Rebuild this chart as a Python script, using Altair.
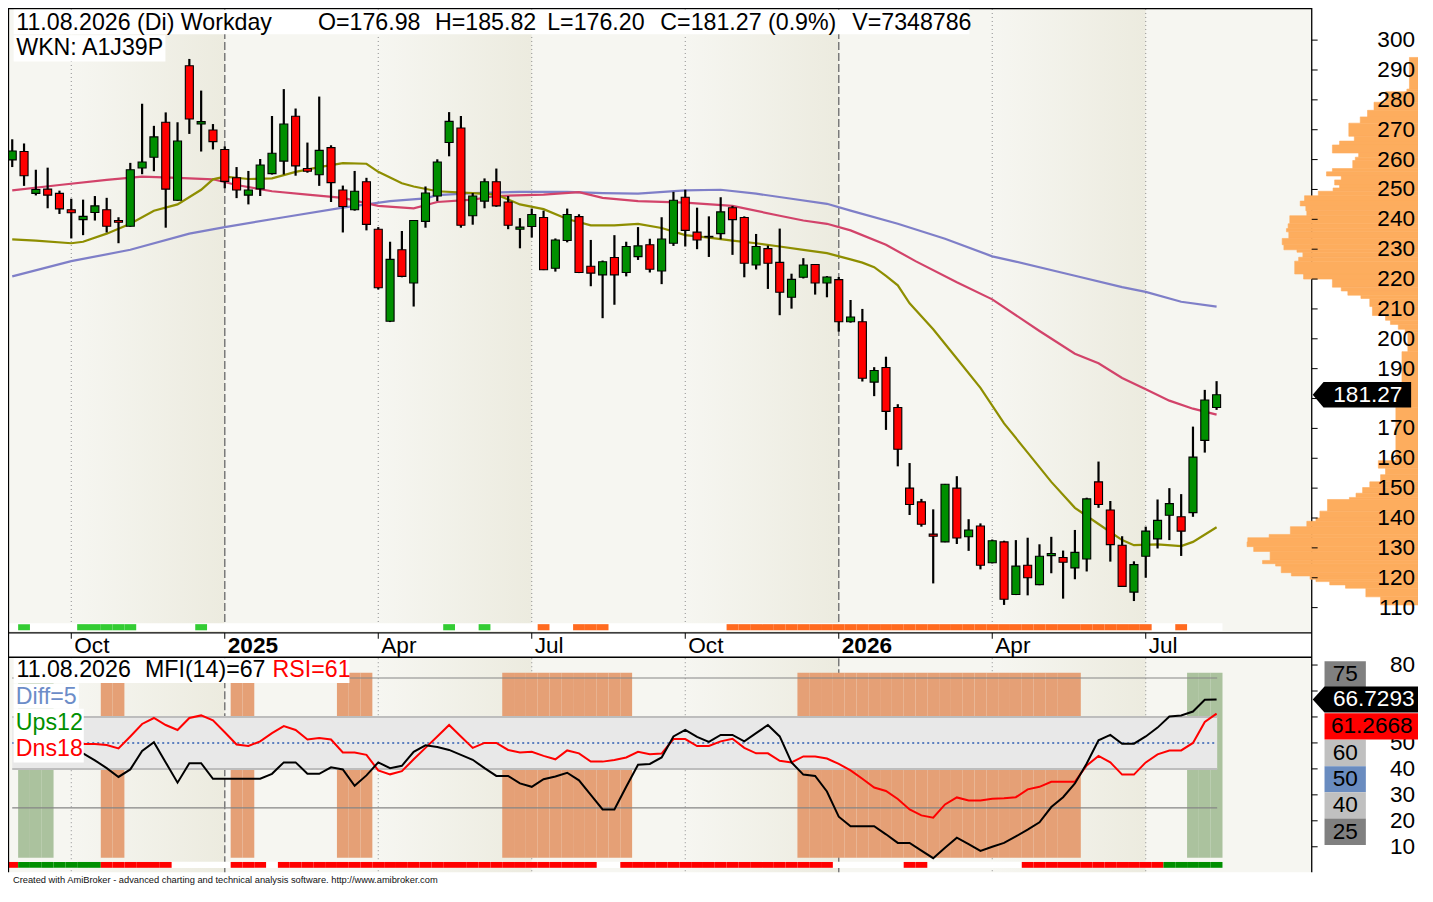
import altair as alt
import pandas as pd

# ------------------------------------------------------------------ data
OPEN = [259.9, 262.7, 248.7, 250.1, 248.7, 243.2, 239.9, 242.3, 243.2, 239.6,
        237.7, 257.2, 260.8, 272.5, 246.4, 291.4, 271.9, 269.9, 263.4, 253.9,
        248.1, 250.2, 255.3, 259.5, 274.5, 257.0, 254.9, 264.0, 249.8, 243.2,
        252.6, 236.7, 205.9, 229.8, 218.7, 239.3, 247.8, 265.7, 270.6, 241.2,
        246.1, 252.6, 245.8, 236.7, 237.6, 240.6, 223.6, 232.9, 240.9, 224.3,
        221.4, 227.2, 222.2, 227.5, 231.5, 222.7, 232.0, 247.4, 235.7, 234.3,
        235.2, 243.9, 240.6, 224.7, 230.2, 225.6, 213.9, 220.6, 224.9, 218.7,
        219.8, 205.7, 205.7, 185.5, 190.4, 177.0, 150.0, 145.4, 134.6, 132.0,
        150.0, 133.7, 137.3, 125.0, 132.0, 114.4, 124.2, 117.7, 127.4, 126.8,
        123.3, 126.3, 152.1, 142.7, 130.9, 115.2, 127.2, 133.0, 140.9, 140.4,
        141.8, 166.0, 176.98]
HIGH = [266.8, 265.4, 256.6, 257.3, 249.6, 246.9, 246.6, 247.8, 247.2, 240.7,
        258.9, 278.7, 271.3, 275.8, 272.5, 293.7, 283.1, 271.9, 264.4, 257.5,
        256.2, 260.2, 274.6, 283.6, 277.1, 265.7, 281.1, 264.8, 251.3, 256.2,
        253.9, 237.4, 232.5, 236.1, 239.7, 251.0, 260.1, 275.9, 274.6, 248.8,
        253.7, 257.0, 247.8, 240.4, 243.6, 242.9, 233.6, 243.6, 241.7, 233.1,
        226.2, 234.7, 232.5, 237.4, 233.5, 240.7, 249.2, 249.9, 243.9, 241.0,
        247.4, 244.5, 241.0, 235.1, 231.2, 236.9, 221.8, 227.0, 225.0, 221.0,
        220.7, 213.0, 210.0, 190.5, 194.0, 178.1, 158.4, 146.4, 142.9, 151.4,
        154.0, 139.6, 138.2, 132.8, 132.4, 132.6, 133.4, 131.2, 133.7, 129.1,
        136.0, 146.8, 158.9, 145.7, 133.9, 125.5, 137.1, 146.2, 150.0, 148.0,
        170.6, 182.9, 185.82]
LOW = [257.5, 251.2, 248.0, 243.7, 241.8, 233.6, 234.7, 239.6, 235.6, 232.0,
       237.5, 255.1, 256.1, 237.2, 246.2, 268.6, 262.7, 263.4, 250.4, 247.1,
       245.0, 247.8, 255.0, 255.0, 254.6, 255.6, 251.2, 245.8, 235.6, 242.9,
       236.3, 216.5, 205.6, 220.6, 210.8, 237.2, 246.1, 261.1, 237.2, 238.2,
       243.7, 244.2, 236.7, 230.3, 233.9, 223.0, 222.5, 232.3, 222.0, 217.6,
       206.9, 211.4, 220.9, 226.4, 222.2, 218.3, 231.1, 230.9, 230.0, 227.4,
       233.3, 228.1, 220.6, 223.2, 216.7, 207.9, 210.1, 220.2, 214.8, 213.9,
       202.4, 205.4, 185.7, 180.8, 169.5, 157.3, 141.0, 137.1, 118.1, 131.9,
       131.3, 129.0, 122.8, 124.8, 110.9, 114.2, 114.1, 117.5, 121.5, 113.0,
       119.5, 122.1, 143.4, 125.4, 117.0, 112.2, 120.0, 129.8, 132.6, 127.3,
       140.4, 161.9, 176.20]
CLOSE = [262.9, 254.6, 250.0, 248.1, 243.5, 242.2, 241.0, 244.5, 237.7, 239.0,
         256.6, 259.2, 267.6, 250.1, 266.2, 273.6, 272.7, 266.0, 252.7, 249.8,
         249.8, 258.2, 262.1, 271.9, 257.9, 256.1, 263.1, 252.3, 244.3, 249.4,
         238.3, 217.1, 226.6, 220.9, 239.6, 248.8, 259.2, 272.8, 238.0, 247.8,
         252.6, 244.5, 238.0, 237.4, 241.6, 223.1, 233.1, 241.6, 222.2, 222.0,
         225.8, 221.4, 230.9, 231.1, 223.3, 233.4, 246.4, 236.3, 233.1, 234.1,
         242.5, 239.9, 225.3, 230.9, 225.3, 215.6, 219.9, 224.7, 218.7, 220.7,
         205.7, 207.3, 186.8, 189.4, 175.7, 163.0, 144.5, 137.9, 133.9, 151.3,
         133.3, 136.0, 124.2, 132.4, 112.8, 123.9, 120.0, 127.2, 128.1, 125.2,
         128.5, 146.4, 144.5, 131.1, 117.1, 124.4, 135.6, 139.2, 144.8, 135.6,
         160.4, 179.5, 181.27]

# moving averages (week index, value)
MA_OLIVE_I = [0, 2, 5, 6, 8, 10, 12, 14, 16, 17, 18, 20, 22, 24, 26, 28, 30, 31, 33, 34,
              36, 39, 41, 43, 45, 47, 49, 51, 53, 55, 57, 59, 61, 63, 65, 67, 69, 71, 72, 73,
              74, 75, 76, 78, 80, 82, 84, 86, 88, 90, 92, 94, 95, 97, 99, 100, 102]
MA_OLIVE_V = [233.3, 232.9, 232.0, 232.5, 235.2, 238.5, 242.9, 245.0, 249.9, 253.4, 254.3,
              253.5, 253.7, 255.9, 257.5, 258.8, 258.6, 255.9, 252.1, 251.0, 249.4, 248.8,
              248.3, 245.0, 243.4, 240.1, 238.0, 238.0, 238.5, 237.1, 234.7, 233.9, 232.9,
              232.0, 230.9, 229.8, 228.7, 226.6, 225.5, 224.0, 221.1, 217.9, 211.9, 203.2,
              193.4, 183.6, 171.7, 161.9, 152.1, 143.4, 138.0, 132.6, 130.9, 131.2, 130.6,
              132.0, 136.9]
MA_RED_I = [0, 4, 8, 11, 14, 17, 19, 22, 25, 28, 31, 34, 36, 39, 41, 45, 48, 50, 53, 57,
            61, 65, 67, 69, 71, 74, 76.5, 80, 83, 87, 90, 92, 94, 96, 98, 100, 102]
MA_RED_V = [249.7, 251.5, 253.2, 254.3, 253.9, 253.4, 251.5, 249.4, 248.3, 247.2, 244.5,
            243.7, 245.8, 246.6, 247.8, 248.3, 249.1, 247.2, 246.1, 245.6, 244.5, 241.2,
            239.6, 238.5, 236.3, 231.5, 226.0, 218.9, 213.2, 202.6, 195.0, 191.8, 186.9,
            183.1, 179.3, 176.6, 174.6]
MA_BLUE_I = [0, 5, 10, 15, 18, 23, 28, 32, 35, 36, 39, 43, 47, 50, 53, 57, 60, 63, 66, 69,
             71, 75, 79, 83, 84.8, 90, 94, 96, 99, 102]
MA_BLUE_V = [220.9, 226.0, 229.8, 235.2, 237.4, 240.7, 243.9, 246.1, 247.0, 248.1, 248.8,
             249.2, 249.2, 248.8, 248.6, 249.7, 249.9, 248.6, 246.9, 245.2, 242.9, 238.5,
             233.5, 227.6, 226.0, 221.1, 217.3, 215.7, 212.4, 210.8]

# volume-at-price profile: price edges (top to bottom) and bar lengths
PROF_EDGES = [294.2, 283.6, 282.7, 279.2, 276.5, 274.3, 272.2, 267.8, 266.2, 264.9, 262.2,
              260.8, 259.7, 257.0, 255.9, 254.5, 253.2, 251.5, 250.5, 249.4, 247.9, 246.1,
              244.5, 242.9, 241.2, 238.5, 236.9, 235.8, 233.6, 231.5, 229.8, 229.0, 227.3,
              226.0, 221.7, 220.0, 217.3, 216.0, 214.6, 213.5, 210.8, 207.8, 206.2, 204.8,
              203.2, 202.2, 195.7, 177.1, 159.2, 156.7, 154.5, 152.1, 150.2, 148.3, 146.9,
              146.2, 142.3, 140.0, 138.9, 137.1, 134.5, 133.4, 132.0, 130.4, 128.8, 125.8,
              124.7, 123.9, 121.7, 120.6, 119.5, 118.7, 117.6, 116.5, 113.6, 110.9]
PROF_VOL = [8.7, 11.3, 33, 44.7, 51.3, 58.7, 70.3, 64.7, 79.7, 87, 60.3, 63.7, 66.3, 87, 93,
            78, 84.7, 79.7, 86.3, 101.3, 115.3, 119.7, 114, 113, 130.3, 132, 133.7, 131.3,
            138, 136.3, 123, 117, 121.3, 125.3, 116.3, 87, 78, 71.3, 58, 49, 46.3, 33, 28,
            20, 13, 10.3, 16.3, 22.5, 40.3, 33, 38, 49, 56.3, 63, 69.7, 92, 99.7, 103.7,
            113, 129.7, 151.3, 173, 173.7, 167, 150.3, 158, 144.7, 139, 128.7, 109.7,
            103.7, 89.7, 73.7, 53, 38]

# signal strips / zones per week ('-' = none)
TOP_SIG = ("-g----gggg" "g-----g---" "----------" "-------g--" "g----o--oo"
           "o---------" "-ooooooooo" "oooooooooo" "oooooooooo" "ooooooo--o" "---")
BOT_SIG = ("rgggggggrr" "rrrr-----r" "rr-rrrrrrr" "rrrrrrrrrr" "rrrrrrrrrr"
           "--rrrrrrrr" "rrrrrrrrrr" "------rr--" "------rrrr" "rrrrrrrrgg" "ggg")
ZONE = ("-ggg----oo" "---------o" "o-------oo" "o---------" "--oooooooo"
        "ooo-------" "-------ooo" "oooooooooo" "oooooooooo" "o---------" "ggg")

IND_START = 6
MFI = [46.0, 43.3, 40.3, 36.9, 39.8, 46.9, 50.3, 42.5, 34.7, 42.2,
       42.2, 36.2, 36.2, 36.2, 36.2, 36.2, 38.1, 42.5, 42.5, 38.1,
       38.1, 40.6, 39.8, 33.5, 37.5, 42.5, 40.3, 41.2, 46.6, 49.1,
       48.4, 47.3, 45.4, 43.5, 40.3, 37.3, 37.3, 34.4, 33.1, 36.0,
       37.1, 38.5, 35.6, 30.0, 24.4, 24.4, 33.1, 41.6, 41.9, 44.4,
       52.5, 55.0, 52.3, 50.4, 53.1, 53.1, 50.6, 53.8, 56.9, 52.5,
       42.5, 37.8, 37.3, 31.3, 21.6, 17.9, 17.9, 17.9, 14.8, 11.5,
       11.5, 8.5, 5.6, 9.6, 13.5, 11.0, 8.4, 10.0, 11.5, 14.0,
       16.6, 19.4, 25.3, 29.1, 34.4, 42.1, 51.0, 53.1, 49.7, 49.7,
       52.5, 55.9, 60.2, 60.6, 62.1, 66.6, 66.73]
RSI = [49.6, 49.6, 49.2, 47.9, 52.5, 57.3, 59.6, 56.9, 55.0, 59.6,
       60.6, 58.7, 54.1, 49.4, 48.8, 50.6, 53.8, 56.5, 55.0, 51.3,
       51.9, 51.3, 46.3, 46.3, 45.4, 39.4, 37.9, 39.1, 43.7, 48.1,
       52.5, 56.9, 52.5, 48.1, 50.0, 50.0, 47.3, 46.3, 46.6, 45.0,
       43.7, 47.1, 46.0, 42.8, 42.8, 43.4, 44.4, 46.6, 45.6, 45.9,
       51.5, 51.5, 48.8, 48.8, 50.6, 51.6, 48.1, 46.0, 46.0, 43.1,
       42.5, 44.8, 44.8, 44.0, 41.9, 39.4, 36.2, 32.8, 31.5, 28.4,
       24.4, 22.1, 21.2, 26.3, 29.0, 27.8, 27.8, 28.5, 28.7, 29.1,
       32.1, 33.1, 35.0, 35.0, 35.0, 41.3, 45.0, 42.5, 37.8, 37.8,
       42.5, 45.6, 47.1, 47.1, 50.0, 58.1, 61.27]

QSTART = [5, 18, 31, 44, 57, 70, 83, 96]
QLABEL = ["Oct", "2025", "Apr", "Jul", "Oct", "2026", "Apr", "Jul"]
QYEAR = [0, 1, 0, 0, 0, 1, 0, 0]
PRICE_TICKS = [110, 120, 130, 140, 150, 160, 170, 180, 190, 200,
               210, 220, 230, 240, 250, 260, 270, 280, 290, 300]
PRICE_LABELS = [110, 120, 130, 140, 150, 160, 170, 190, 200,
                210, 220, 230, 240, 250, 260, 270, 280, 290, 300]   # 180 sits under the price tag
IND_TICKS = [10, 20, 30, 40, 50, 60, 70, 80]
IND_LABELS = [10, 20, 30, 40, 50, 80]                                # 60/70 sit under the value tags
LEVELS = [75, 60, 40, 25]
LAST_PRICE = 181.27
LAST_MFI = 66.7293
LAST_RSI = 61.2668

# ------------------------------------------------------------------ layout
W, H = 1410, 878
SX, SY = W / 1433.0, H / 902.0
def px(v): return round(v * SX, 2)
def py(v): return round(v * SY, 2)

FONT = "Liberation Sans"
FS = 22.6
XS = alt.Scale(domain=[0, 102], range=[px(4.3), px(1228.3)], nice=False, zero=False)
PS = alt.Scale(domain=[110, 300], range=[py(616), py(33)], nice=False, zero=False)
IS = alt.Scale(domain=[10, 80], range=[py(861.7), py(675)], nice=False, zero=False)
VS = alt.Scale(domain=[0, 200], range=[px(1433), px(1233)], nice=False, zero=False)
L_EDGE = -4.3 / 12
R_EDGE = (1325 - 4.3) / 12

def xq(f): return alt.X(f"{f}:Q", scale=XS, axis=None)
def pq(f): return alt.Y(f"{f}:Q", scale=PS, axis=None)
def iq(f): return alt.Y(f"{f}:Q", scale=IS, axis=None)
def pxl_x(f): return alt.X(f"{f}:Q", scale=None)
def pxl_y(f): return alt.Y(f"{f}:Q", scale=None)

GRAD = alt.Gradient(gradient="linear",
                    stops=[alt.GradientStop(color="#F6F6F1", offset=0),
                           alt.GradientStop(color="#ECEBDF", offset=1)],
                    x1=0, x2=1, y1=0, y2=0)

layers = []

# ---- background quarter shading
edges = [L_EDGE] + QSTART + [R_EDGE]
kinds = ["L", "B", "L", "B", "L", "B", "L", "B", "L"]
bands = pd.DataFrame({"a": edges[:-1], "b": edges[1:], "k": kinds})
for (y0, y1) in [(1, 642), (667, 888)]:
    layers.append(alt.Chart(bands).transform_filter("datum.k == 'L'")
                  .mark_rect(color="#F6F6F1")
                  .encode(x=xq("a"), x2="b:Q", y=alt.value(py(y0)), y2=alt.value(py(y1))))
    layers.append(alt.Chart(bands).transform_filter("datum.k == 'B'")
                  .mark_rect(color=GRAD)
                  .encode(x=xq("a"), x2="b:Q", y=alt.value(py(y0)), y2=alt.value(py(y1))))

# ---- quarter grid lines
qdf = pd.DataFrame({"i": QSTART, "lab": QLABEL, "yr": QYEAR})
for (y0, y1) in [(1, 632), (668, 888)]:
    layers.append(alt.Chart(qdf).transform_filter("datum.yr == 0")
                  .mark_rule(color="#8c8c8c", strokeDash=[1, 3], strokeWidth=1)
                  .encode(x=xq("i"), y=alt.value(py(y0)), y2=alt.value(py(y1))))
    layers.append(alt.Chart(qdf).transform_filter("datum.yr == 1")
                  .mark_rule(color="#7a7a7a", strokeDash=[8, 3], strokeWidth=1.5)
                  .encode(x=xq("i"), y=alt.value(py(y0)), y2=alt.value(py(y1))))

# ---- lower panel: zones, band, levels, indicator lines
sdf = pd.DataFrame({"i": list(range(len(OPEN))), "top": list(TOP_SIG),
                    "bot": list(BOT_SIG), "zone": list(ZONE)})
layers.append(alt.Chart(sdf).transform_filter("datum.zone != '-'")
              .transform_calculate(a="datum.i - 0.5", b="datum.i + 0.5",
                                   col="datum.zone == 'g' ? '#ABC29E' : '#E5A076'")
              .mark_rect()
              .encode(x=xq("a"), x2="b:Q", y=alt.value(py(683)), y2=alt.value(py(873)),
                      color=alt.Color("col:N", scale=None)))
band = pd.DataFrame({"a": [0], "b": [102.05], "lo": [40], "hi": [60]})
layers.append(alt.Chart(band).mark_rect(color="#E8E8E8")
              .encode(x=xq("a"), x2="b:Q", y=iq("lo"), y2="hi:Q"))
lv = pd.DataFrame({"v": LEVELS, "a": [0] * 4, "b": [102.05] * 4})
layers.append(alt.Chart(lv).transform_filter("datum.v == 60 || datum.v == 40")
              .mark_rule(color="#BDBDBD", strokeWidth=2)
              .encode(x=xq("a"), x2="b:Q", y=iq("v")))
layers.append(alt.Chart(lv).transform_filter("datum.v == 75 || datum.v == 25")
              .mark_rule(color="#858585", strokeWidth=1.2)
              .encode(x=xq("a"), x2="b:Q", y=iq("v")))
mid = pd.DataFrame({"v": [50], "a": [0], "b": [102.05]})
layers.append(alt.Chart(mid).mark_rule(color="#5B7FBF", strokeWidth=2, strokeDash=[2, 3])
              .encode(x=xq("a"), x2="b:Q", y=iq("v")))
ind = pd.DataFrame({"i": list(range(IND_START, IND_START + len(MFI))), "mfi": MFI, "rsi": RSI})
layers.append(alt.Chart(ind).mark_line(color="#FF0000", strokeWidth=2)
              .encode(x=xq("i"), y=iq("rsi")))
layers.append(alt.Chart(ind).mark_line(color="#000000", strokeWidth=2)
              .encode(x=xq("i"), y=iq("mfi")))

# ---- moving averages
for (ii, vv, col) in [(MA_BLUE_I, MA_BLUE_V, "#7F7FC8"),
                      (MA_RED_I, MA_RED_V, "#D2436A"),
                      (MA_OLIVE_I, MA_OLIVE_V, "#8E8E00")]:
    mdf = pd.DataFrame({"i": ii, "v": vv})
    layers.append(alt.Chart(mdf).mark_line(color=col, strokeWidth=2.2)
                  .encode(x=xq("i"), y=pq("v")))

# ---- candles
cdf = pd.DataFrame({"i": list(range(len(OPEN))), "o": OPEN, "h": HIGH, "l": LOW, "c": CLOSE})
layers.append(alt.Chart(cdf).mark_rule(color="black", strokeWidth=2.2)
              .encode(x=xq("i"), y=pq("l"), y2="h:Q"))
layers.append(alt.Chart(cdf)
              .transform_calculate(a="datum.i - 0.34", b="datum.i + 0.34",
                                   top="max(datum.o, datum.c)", bot="min(datum.o, datum.c)",
                                   col="datum.c >= datum.o ? '#008F00' : '#FF0000'")
              .mark_rect(stroke="black", strokeWidth=1.1)
              .encode(x=xq("a"), x2="b:Q", y=pq("bot"), y2="top:Q",
                      color=alt.Color("col:N", scale=None)))

# ---- signal strips
strip_bg = pd.DataFrame({"a": [L_EDGE], "b": [102.5]})
for (y0, y1) in [(632, 640), (877, 883.5)]:
    layers.append(alt.Chart(strip_bg).mark_rect(color="white")
                  .encode(x=xq("a"), x2="b:Q", y=alt.value(py(y0)), y2=alt.value(py(y1))))
layers.append(alt.Chart(sdf).transform_filter("datum.top != '-'")
              .transform_calculate(a="datum.i - 0.5", b="datum.i + 0.5",
                                   col="datum.top == 'g' ? '#33CC33' : '#FF6A1F'")
              .mark_rect()
              .encode(x=xq("a"), x2="b:Q", y=alt.value(py(633)), y2=alt.value(py(639.3)),
                      color=alt.Color("col:N", scale=None)))
layers.append(alt.Chart(sdf).transform_filter("datum.bot != '-'")
              .transform_calculate(a="max(datum.i - 0.5, -0.35)", b="datum.i + 0.5",
                                   col="datum.bot == 'g' ? '#008F00' : '#FF0000'")
              .mark_rect()
              .encode(x=xq("a"), x2="b:Q", y=alt.value(py(877.3)), y2=alt.value(py(883.3)),
                      color=alt.Color("col:N", scale=None)))

# ---- frame lines
frame = pd.DataFrame({
    "x0": [px(0.5), px(0), px(1325), px(0), px(0)],
    "x1": [px(0.5), px(1325), px(1325), px(1325), px(1325)],
    "y0": [py(0), py(0.5), py(0), py(642), py(667)],
    "y1": [py(888), py(0.5), py(888), py(642), py(667)]})
layers.append(alt.Chart(frame).mark_rule(color="black", strokeWidth=1.3)
              .encode(x=pxl_x("x0"), x2="x1:Q", y=pxl_y("y0"), y2="y1:Q"))
layers.append(alt.Chart(qdf).mark_rule(color="black", strokeWidth=1)
              .encode(x=xq("i"), y=alt.value(py(642)), y2=alt.value(py(648))))

# ---- volume profile
pdf = pd.DataFrame({"hi": PROF_EDGES[:-1], "lo": PROF_EDGES[1:], "v": PROF_VOL})
layers.append(alt.Chart(pdf).transform_calculate(z="0")
              .mark_rect(color="#FDAD5E", stroke="#FDAD5E", strokeWidth=0.6)
              .encode(x=alt.X("z:Q", scale=VS, axis=None), x2="v:Q", y=pq("lo"), y2="hi:Q"))

# ---- right axes
tdf = pd.DataFrame({"v": PRICE_TICKS})
layers.append(alt.Chart(tdf).mark_rule(color="black")
              .encode(x=alt.value(px(1325)), x2=alt.value(px(1331)), y=pq("v")))
tldf = pd.DataFrame({"v": PRICE_LABELS})
layers.append(alt.Chart(tldf).mark_text(align="right", baseline="middle", font=FONT,
                                        fontSize=FS, color="black")
              .encode(x=alt.value(px(1430)), y=pq("v"), text="v:Q"))
idf = pd.DataFrame({"v": IND_TICKS})
layers.append(alt.Chart(idf).mark_rule(color="black")
              .encode(x=alt.value(px(1325)), x2=alt.value(px(1331)), y=iq("v")))
ildf = pd.DataFrame({"v": IND_LABELS})
layers.append(alt.Chart(ildf).mark_text(align="right", baseline="middle", font=FONT,
                                        fontSize=FS, color="black")
              .encode(x=alt.value(px(1430)), y=iq("v"), text="v:Q"))

# ---- date labels
layers.append(alt.Chart(qdf).transform_filter("datum.yr == 0")
              .mark_text(align="left", baseline="middle", font=FONT, fontSize=FS, dx=3)
              .encode(x=xq("i"), y=alt.value(py(655)), text="lab:N"))
layers.append(alt.Chart(qdf).transform_filter("datum.yr == 1")
              .mark_text(align="left", baseline="middle", font=FONT, fontSize=FS, dx=3,
                         fontWeight="bold")
              .encode(x=xq("i"), y=alt.value(py(655)), text="lab:N"))

# ---- label boxes (white) and texts
boxes = pd.DataFrame({
    "x0": [px(5.7), px(5.7), px(5.7), px(5.7), px(5.7), px(5.7)],
    "x1": [px(977), px(160), px(347), px(72), px(77), px(77)],
    "y0": [py(1.7), py(28), py(668), py(694), py(720), py(747)],
    "y1": [py(27), py(55), py(693.5), py(720), py(747), py(775)]})
layers.append(alt.Chart(boxes).mark_rect(color="white")
              .encode(x=pxl_x("x0"), x2="x1:Q", y=pxl_y("y0"), y2="y1:Q"))
texts = pd.DataFrame({
    "t": ["11.08.2026 (Di) Workday", "O=176.98", "H=185.82", "L=176.20",
          "C=181.27 (0.9%)", "V=7348786", "WKN: A1J39P",
          "11.08.2026", "MFI(14)=67", "RSI=61", "Diff=5", "Ups12", "Dns18"],
    "x": [px(8.4), px(315), px(434), px(548), px(663), px(858), px(8.4),
          px(8.6), px(139.2), px(268.9), px(8), px(8), px(8)],
    "y": [py(15), py(15), py(15), py(15), py(15), py(15), py(41.5),
          py(680.5), py(680.5), py(680.5), py(707.5), py(735), py(761.5)],
    "c": ["black"] * 9 + ["#FF0000", "#6C8DC8", "#009000", "#FF0000"]})
layers.append(alt.Chart(texts).mark_text(align="left", baseline="middle", font=FONT,
                                         fontSize=FS + 0.6)
              .encode(x=pxl_x("x"), y=pxl_y("y"), text="t:N",
                      color=alt.Color("c:N", scale=None)))

# ---- level boxes on lower axis
lb = pd.DataFrame({
    "lab": ["75", "60", "50", "40", "25"],
    "y0": [py(671), py(751.7), py(779), py(805.7), py(832.7)],
    "y1": [py(697.7), py(779), py(805.7), py(832.7), py(860)],
    "col": ["#808080", "#C0C0C0", "#6A8CC0", "#C0C0C0", "#808080"]})
layers.append(alt.Chart(lb).mark_rect()
              .encode(x=alt.value(px(1338)), x2=alt.value(px(1380)), y=pxl_y("y0"), y2="y1:Q",
                      color=alt.Color("col:N", scale=None)))
layers.append(alt.Chart(lb).transform_calculate(ym="(datum.y0 + datum.y1) / 2")
              .mark_text(align="center", baseline="middle", font=FONT, fontSize=FS, color="black")
              .encode(x=alt.value(px(1359)), y=pxl_y("ym"), text="lab:N"))

# ---- value tags
def tag_path(w, h, t):
    hw = w / 2.0
    a = h / 2.0 / hw
    s = -1 + t / hw
    return f"M -1 0 L {s:.3f} {-a:.3f} L 1 {-a:.3f} L 1 {a:.3f} L {s:.3f} {a:.3f} Z"

ptag = pd.DataFrame({"v": [LAST_PRICE], "t": [f"{LAST_PRICE:.2f}"]})
layers.append(alt.Chart(ptag).mark_point(shape=tag_path(100, 26, 11), size=(100 * SX) ** 2,
                                         filled=True, color="black", opacity=1, strokeWidth=0)
              .encode(x=alt.value(px(1376)), y=pq("v")))
layers.append(alt.Chart(ptag).mark_text(align="center", baseline="middle", font=FONT,
                                        fontSize=FS, color="white")
              .encode(x=alt.value(px(1382)), y=pq("v"), text="t:N"))
mtag = pd.DataFrame({"v": [LAST_MFI], "t": [f"{LAST_MFI:.4f}"]})
layers.append(alt.Chart(mtag).mark_point(shape=tag_path(107, 26.6, 12), size=(107 * SX) ** 2,
                                         filled=True, color="black", opacity=1, strokeWidth=0)
              .encode(x=alt.value(px(1379.5)), y=iq("v")))
layers.append(alt.Chart(mtag).mark_text(align="center", baseline="middle", font=FONT,
                                        fontSize=FS, color="white")
              .encode(x=alt.value(px(1388)), y=iq("v"), text="t:N"))
rtag = pd.DataFrame({"v": [LAST_RSI], "t": [f"{LAST_RSI:.4f}"]})
layers.append(alt.Chart(rtag).mark_point(shape=tag_path(95, 26.7, 0.01), size=(95 * SX) ** 2,
                                         filled=True, color="#FF0000", opacity=1, strokeWidth=0,
                                         yOffset=py(13))
              .encode(x=alt.value(px(1385.5)), y=iq("v")))
layers.append(alt.Chart(rtag).mark_text(align="center", baseline="middle", font=FONT,
                                        fontSize=FS, color="black", yOffset=py(13))
              .encode(x=alt.value(px(1386)), y=iq("v"), text="t:N"))

# ---- footer
foot = pd.DataFrame({"t": ["Created with AmiBroker - advanced charting and technical analysis "
                           "software. http://www.amibroker.com"],
                     "x": [px(5)], "y": [py(896)]})
layers.append(alt.Chart(foot).mark_text(align="left", baseline="middle", font=FONT,
                                        fontSize=9.3, color="#111111")
              .encode(x=pxl_x("x"), y=pxl_y("y"), text="t:N"))

chart = (alt.layer(*layers)
         .resolve_scale(x="independent", y="independent")
         .properties(width=W, height=H, padding=0,
                     autosize=alt.AutoSizeParams(type="none"))
         .configure_view(stroke=None))

chart.save("out.html", embed_options={"renderer": "svg", "actions": False})
